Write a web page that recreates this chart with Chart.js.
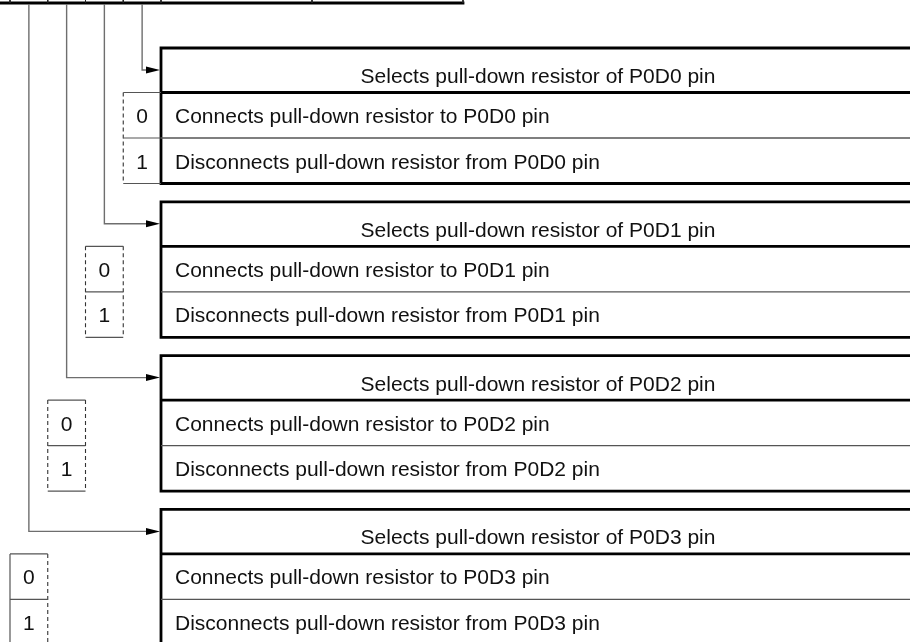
<!DOCTYPE html>
<html>
<head>
<meta charset="utf-8">
<script src="https://cdn.jsdelivr.net/npm/chart.js@4.4.0/dist/chart.umd.min.js"></script>
<style>
  html, body { margin: 0; padding: 0; background: #fff; }
  #wrap { width: 910px; height: 642px; }
</style>
</head>
<body>
<div id="wrap"><canvas id="diagram" width="910" height="642"></canvas></div>
<script>
// Dados do diagrama (registrador P0D: seleção de resistor pull-down)
const pins = ['P0D0', 'P0D1', 'P0D2', 'P0D3'];
const bitValues = ['0', '1'];
const headerTexts = pins.map(p => 'Selects pull-down resistor of ' + p + ' pin');
const connectTexts = pins.map(p => 'Connects pull-down resistor to ' + p + ' pin');
const disconnectTexts = pins.map(p => 'Disconnects pull-down resistor from ' + p + ' pin');

// Layout (unidades da escala = pixels do desenho)
const colLeft = k => 10 + k * 37.75;           // colunas de bit do registrador
const regSeps = [10, 47.75, 85.5, 123.25, 161, 312, 463];
const regY = 3;
const boxLeft = 161, boxRight = 915;
const boxTop = i => 48 + i * 153.8;
const headH = 44.5, rowH = 45.5;
const bitCol = i => 3 - i;                      // P0D0 -> coluna 3, P0D3 -> coluna 0
const FONT = '21px "Liberation Sans", Arial, sans-serif';

const GAP = { x: null, y: null };
function seg(list, x1, y1, x2, y2) { list.push({ x: x1, y: y1 }, { x: x2, y: y2 }, GAP); }

const thick = [], thinRow = [], regThin = [], leads = [], dashH = [], dashV = [], solidV = [];

seg(thick, 0, regY, 463, regY);
regSeps.forEach(x => seg(regThin, x, 0, x, regY));

pins.forEach((p, i) => {
  const t = boxTop(i), hb = t + headH, mid = hb + rowH, bot = mid + rowH;
  seg(thick, boxRight, t, boxLeft, t);
  seg(thick, boxLeft, t, boxLeft, bot);
  seg(thick, boxLeft, hb, boxRight, hb);
  seg(thick, boxLeft, bot, boxRight, bot);
  seg(thinRow, boxLeft, mid, boxRight, mid);

  const k = bitCol(i), l = colLeft(k), r = colLeft(k + 1), cx = (l + r) / 2;
  const ay = t + 22;
  leads.push({ x: cx, y: regY + 1 }, { x: cx, y: ay }, { x: boxLeft - 12, y: ay }, GAP);

  [hb, mid, bot].forEach(y => seg(dashH, l, y, r, y));
  if (k === 0) seg(solidV, l, hb, l, bot); else seg(dashV, l, hb, l, bot);
  if (k !== 3) seg(dashV, r, hb, r, bot);
});

function lineSet(data, color, width, extra) {
  return Object.assign({
    data: data, showLine: true, borderColor: color, borderWidth: width,
    pointRadius: 0, spanGaps: false, fill: false, borderCapStyle: 'butt'
  }, extra || {});
}

// Setas e textos desenhados via escalas do gráfico
const diagramPlugin = {
  id: 'diagramPlugin',
  afterDatasetsDraw(chart) {
    const ctx = chart.ctx, xs = chart.scales.x, ys = chart.scales.y;
    const X = v => xs.getPixelForValue(v), Y = v => ys.getPixelForValue(v);
    ctx.save();
    ctx.fillStyle = '#000';
    pins.forEach((p, i) => {
      const ay = boxTop(i) + 22;
      ctx.beginPath();
      ctx.moveTo(X(boxLeft - 1), Y(ay));
      ctx.lineTo(X(boxLeft - 15), Y(ay - 3.5));
      ctx.lineTo(X(boxLeft - 15), Y(ay + 3.5));
      ctx.closePath();
      ctx.fill();
    });
    ctx.font = FONT;
    ctx.fillStyle = '#111';
    ctx.textBaseline = 'alphabetic';
    pins.forEach((p, i) => {
      const t = boxTop(i), hb = t + headH, mid = hb + rowH;
      ctx.textAlign = 'center';
      ctx.fillText(headerTexts[i], X((boxLeft + boxRight) / 2), Y(t + 35));
      ctx.textAlign = 'left';
      ctx.fillText(connectTexts[i], X(boxLeft + 14), Y(hb + 30.5));
      ctx.fillText(disconnectTexts[i], X(boxLeft + 14), Y(mid + 30.5));
      const k = bitCol(i), cx = (colLeft(k) + colLeft(k + 1)) / 2;
      ctx.textAlign = 'center';
      ctx.fillText(bitValues[0], X(cx), Y(hb + 30.5));
      ctx.fillText(bitValues[1], X(cx), Y(mid + 30.5));
    });
    ctx.restore();
  }
};

new Chart(document.getElementById('diagram').getContext('2d'), {
  type: 'scatter',
  data: {
    datasets: [
      lineSet(leads, '#6e6e6e', 1.4),
      lineSet(dashH, '#555', 1.2),
      lineSet(dashV, '#333', 1.1, { borderDash: [4, 3] }),
      lineSet(solidV, '#555', 1.2),
      lineSet(thinRow, '#555', 1.3),
      lineSet(regThin, '#222', 1),
      lineSet(thick, '#000', 2.8, { borderCapStyle: 'square' })
    ]
  },
  options: {
    responsive: false,
    animation: false,
    layout: { padding: 0 },
    plugins: { legend: { display: false }, tooltip: { enabled: false } },
    scales: {
      x: { type: 'linear', min: 0, max: 910, display: false },
      y: { type: 'linear', min: 0, max: 642, reverse: true, display: false }
    }
  },
  plugins: [diagramPlugin]
});
</script>
</body>
</html>
